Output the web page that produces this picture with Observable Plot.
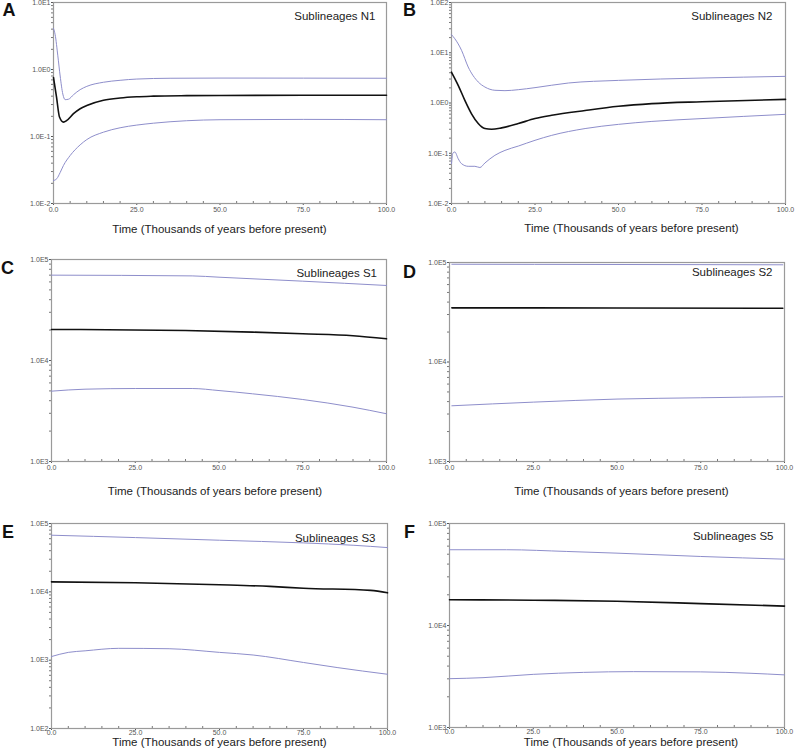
<!DOCTYPE html>
<html><head><meta charset="utf-8">
<script src="https://cdn.jsdelivr.net/npm/d3@7"></script>
<script src="https://cdn.jsdelivr.net/npm/@observablehq/plot@0.6"></script>
<style>
body{margin:0;background:#fff;}
#root{position:relative;width:797px;height:751px;overflow:hidden;font-family:"Liberation Sans",Arial,sans-serif;}
.p{position:absolute;}
</style>
</head><body><div id="root"></div>
<script>
// ---- data: [time (thousands of years), effective population size] ----
const xTicks = [0, 25, 50, 75, 100];
const xMinorTicks = [5,10,15,20,30,35,40,45,55,60,65,70,80,85,90,95];
const xLabel = "Time (Thousands of years before present)";
const letters = ["A","B","C","D","E","F"];
const names = ["Sublineages N1","Sublineages N2","Sublineages S1","Sublineages S2","Sublineages S3","Sublineages S5"];
const yDomains = [[0.01,10],[0.01,100],[1e3,1e5],[1e3,1e5],[1e2,1e5],[1e3,1e5]];

const aMedian = [[0,0.76],[0.9,0.39],[1.8,0.195],[3,0.164],[4,0.174],[6,0.219],[8,0.26],[10,0.29],[15,0.347],[20,0.376],[25,0.392],[30,0.4],[40,0.407],[50,0.41],[75,0.412],[100,0.412]];
const aUpper  = [[0,4.1],[0.5,3.3],[1.3,1.6],[2,0.8],[2.8,0.43],[3.5,0.355],[4.5,0.36],[6,0.42],[8,0.5],[10,0.56],[15,0.645],[20,0.69],[25,0.72],[35,0.74],[50,0.745],[100,0.74]];
const aLower  = [[0,0.022],[1,0.0235],[2,0.029],[3,0.037],[5,0.052],[8,0.075],[10,0.09],[15,0.116],[20,0.135],[25,0.148],[30,0.158],[40,0.172],[50,0.178],[75,0.18],[100,0.178]];

const bMedian = [[0,4.1],[1,3.05],[2,2.25],[4,1.13],[6,0.61],[8,0.39],[10,0.31],[12,0.3],[15,0.32],[20,0.39],[25,0.49],[30,0.57],[40,0.71],[50,0.86],[60,0.97],[75,1.06],[100,1.18]];
const bUpper  = [[0,22.9],[1,19],[3,11.2],[5,5.2],[8,2.62],[10,2.08],[13,1.79],[16,1.76],[20,1.84],[25,2.02],[35,2.5],[50,2.82],[75,3.14],[100,3.39]];
const bLower  = [[0,0.062],[0.4,0.1],[1,0.106],[2,0.078],[3,0.062],[5,0.055],[7,0.055],[8.5,0.052],[10,0.064],[13,0.091],[16,0.114],[20,0.139],[25,0.181],[30,0.227],[40,0.31],[50,0.376],[60,0.43],[75,0.49],[100,0.595]];

const cMedian = [[0,20300],[40,19800],[60,19100],[75,18400],[90,17600],[100,16400]];
const cUpper  = [[0,70000],[42,68800],[50,66800],[75,61000],[100,55300]];
const cLower  = [[0,4970],[10,5200],[25,5280],[42,5280],[50,5040],[60,4680],[75,4110],[90,3450],[100,2970]];

const dMedian = [[0.7,35000],[50,34900],[99.5,34700]];
const dUpper  = [[0.7,96000],[50,95500],[99.5,94800]];
const dLower  = [[0.7,3630],[25,3950],[50,4240],[75,4370],[99.5,4480]];

const eMedian = [[0,14000],[25,13600],[50,12700],[65,12000],[75,11300],[95,10500],[100,9670]];
const eUpper  = [[0,67400],[25,62200],[50,56900],[75,52000],[90,48000],[100,44400]];
const eLower  = [[0,1130],[5,1300],[10,1370],[20,1490],[35,1470],[50,1300],[60,1190],[75,925],[85,780],[100,622]];

const fMedian = [[0,17900],[25,17700],[50,17300],[75,16400],[100,15500]];
const fUpper  = [[0,55300],[17,55300],[35,53200],[50,51200],[75,47500],[100,44700]];
const fLower  = [[0,3010],[10,3080],[25,3320],[40,3470],[55,3530],[75,3510],[90,3400],[100,3280]];

const medians = [aMedian,bMedian,cMedian,dMedian,eMedian,fMedian];
const uppers  = [aUpper,bUpper,cUpper,dUpper,eUpper,fUpper];
const lowers  = [aLower,bLower,cLower,dLower,eLower,fLower];

// ---- layout (pixels) ----
const layout = [
  {sx:0,   sy:0,   w:400, h:245, fx0:53,  fx1:386, fy0:2,   fy1:203, L:[8.5,10],  N:[-11,13.7], T:[-0.5,26], tp:2},
  {sx:400, sy:0,   w:397, h:245, fx0:451, fx1:785, fy0:2,   fy1:203, L:[409,10],  N:[-13,14],   T:[13,25],   tp:2},
  {sx:0,   sy:245, w:400, h:255, fx0:51,  fx1:386, fy0:259, fy1:461, L:[7,268],   N:[-9.5,14.3],T:[-4,29.5], tp:2},
  {sx:400, sy:245, w:397, h:255, fx0:449, fx1:784, fy0:262, fy1:461, L:[409,272], N:[-12,10.3], T:[4.5,29.5], tp:2},
  {sx:0,   sy:500, w:400, h:251, fx0:51,  fx1:387, fy0:523, fy1:728, L:[7.5,532], N:[-12,15.3], T:[0,14],    tp:-0.5},
  {sx:400, sy:500, w:397, h:251, fx0:449, fx1:784, fy0:523, fy1:727, L:[409,532], N:[-11,13],   T:[14,15],   tp:-0.5}
];

const BOUND = "#8e8ecb";
const MED = "#111111";
const FONT = "'Liberation Sans', Arial, sans-serif";

const root = document.getElementById("root");
layout.forEach((g, i) => {
  const [lo, hi] = yDomains[i];
  const e0 = Math.round(Math.log10(lo)), e1 = Math.round(Math.log10(hi));
  const major = d3.range(e0, e1 + 1).map(e => Math.pow(10, e));
  const minor = [];
  for (let e = e0; e < e1; e++) for (let k = 2; k < 10; k++) minor.push(k * Math.pow(10, e));
  const mL = g.fx0 - g.sx, mR = g.sx + g.w - g.fx1, mT = g.fy0 - g.sy, mB = g.sy + g.h - g.fy1;
  const chart = Plot.plot({
    width: g.w, height: g.h,
    marginLeft: mL, marginRight: mR, marginTop: mT, marginBottom: mB,
    style: {fontFamily: FONT, background: "transparent", overflow: "visible"},
    x: {domain: [0, 100], axis: null},
    y: {type: "log", domain: [lo, hi], axis: null},
    marks: [
      Plot.axisY(minor, {tickSize: 2, tickFormat: () => "", stroke: "#777"}),
      Plot.axisY(major, {tickSize: 2, tickPadding: 1, tickFormat: v => "1.0E" + Math.round(Math.log10(v)), fontSize: 7, color: "#555"}),
      Plot.axisX(xMinorTicks, {tickSize: -2, tickFormat: () => "", stroke: "#777"}),
      Plot.axisX(xTicks, {tickSize: 2, tickPadding: g.tp, tickFormat: d3.format(".1f"), fontSize: 7, color: "#555"}),
      Plot.frame({stroke: "#9a9a9a", strokeWidth: 1.2}),
      Plot.line(uppers[i], {x: d => d[0], y: d => d[1], stroke: BOUND, strokeWidth: 1, curve: "monotone-x"}),
      Plot.line(lowers[i], {x: d => d[0], y: d => d[1], stroke: BOUND, strokeWidth: 1, curve: "monotone-x"}),
      Plot.line(medians[i], {x: d => d[0], y: d => d[1], stroke: MED, strokeWidth: 1.6, curve: "monotone-x"}),
      Plot.text([names[i]], {frameAnchor: "top-right", textAnchor: "end", lineAnchor: "middle", dx: g.N[0], dy: g.N[1], fontSize: 11.5, fill: "#222"}),
      Plot.text([letters[i]], {frameAnchor: "top-left", textAnchor: "middle", lineAnchor: "middle", dx: g.L[0] - g.fx0, dy: g.L[1] - g.fy0, fontSize: 18, fontWeight: "bold", fill: "#111"}),
      Plot.text([xLabel], {frameAnchor: "bottom", textAnchor: "middle", lineAnchor: "middle", dx: g.T[0], dy: g.T[1], fontSize: 11.5, fill: "#222"})
    ]
  });
  chart.classList.add("p");
  chart.style.left = g.sx + "px";
  chart.style.top = g.sy + "px";
  root.appendChild(chart);
});
</script>
</body></html>
